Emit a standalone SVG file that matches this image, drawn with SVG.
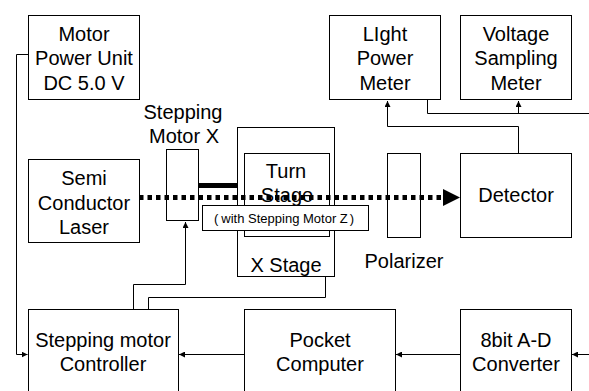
<svg xmlns="http://www.w3.org/2000/svg" width="589" height="391" viewBox="0 0 589 391">
<defs>
<style>
.box{fill:#fff;stroke:#000;stroke-width:1}
.t{font-family:"Liberation Sans",Arial,sans-serif;font-size:20px;fill:#000;text-anchor:middle}
.s{font-family:"Liberation Sans",Arial,sans-serif;font-size:13px;fill:#000}
.ln{fill:none;stroke:#000;stroke-width:1}
</style>
<marker id="ah" markerWidth="6" markerHeight="6" refX="6" refY="3" orient="auto" markerUnits="userSpaceOnUse">
<path d="M0,0 L6,3 L0,6 Z" fill="#000"/>
</marker>
</defs>
<rect width="589" height="391" fill="#fff"/>

<g id="connectors">
<path class="ln" d="M28.5,54.5 H16.5 V354.5 H27.5" marker-end="url(#ah)"/>
<path class="ln" d="M133.5,309 V284.5 H185.5 V222" marker-end="url(#ah)"/>
<path class="ln" d="M148.5,309 V297.5 H325.5 V238" marker-end="url(#ah)"/>
<path class="ln" d="M518.5,153 V126.5 H387.5 V101" marker-end="url(#ah)"/>
<path class="ln" d="M427.5,100 V113.5 H589"/>
<path class="ln" d="M518.5,113.5 V101" marker-end="url(#ah)"/>
<path class="ln" d="M244,354.5 H179" marker-end="url(#ah)"/>
<path class="ln" d="M460,354.5 H396" marker-end="url(#ah)"/>
<path class="ln" d="M589,354.5 H572" marker-end="url(#ah)"/>
</g>

<g id="motor-power">
<rect class="box" x="28.5" y="15.5" width="111" height="84"/>
<text class="t" x="84" y="41">Motor</text>
<text class="t" x="84" y="65">Power Unit</text>
<text class="t" x="84" y="90">DC 5.0 V</text>
</g>

<g id="light-power-meter">
<rect class="box" x="329.5" y="15.5" width="111" height="84"/>
<text class="t" x="385" y="41">LIght</text>
<text class="t" x="385" y="65">Power</text>
<text class="t" x="385" y="90">Meter</text>
</g>

<g id="voltage-meter">
<rect class="box" x="460.5" y="15.5" width="111" height="84"/>
<text class="t" x="516" y="41">Voltage</text>
<text class="t" x="516" y="65">Sampling</text>
<text class="t" x="516" y="90">Meter</text>
</g>

<g id="laser">
<rect class="box" x="28.5" y="159.5" width="111" height="83"/>
<text class="t" x="84" y="185">Semi</text>
<text class="t" x="84" y="210">Conductor</text>
<text class="t" x="84" y="234">Laser</text>
</g>

<g id="stepping-motor-x">
<text class="t" x="183" y="119">Stepping</text>
<text class="t" x="184" y="143">Motor X</text>
<rect class="box" x="166.5" y="149.5" width="32" height="71"/>
<rect x="198" y="183" width="39" height="5" fill="#000"/>
</g>

<g id="x-stage">
<rect class="box" x="237.5" y="127.5" width="97" height="149"/>
<text class="t" x="286" y="272">X Stage</text>
</g>

<g id="turn-stage">
<rect class="box" x="244.5" y="153.5" width="85" height="83"/>
<text class="t" x="286" y="178">Turn</text>
<text class="t" x="287" y="202">Stage</text>
</g>

<g id="polarizer">
<rect class="box" x="387.5" y="153.5" width="33" height="84"/>
<text class="t" x="404" y="268">Polarizer</text>
</g>

<g id="beam">
<line x1="139" y1="197.5" x2="443" y2="197.5" stroke="#000" stroke-width="5" stroke-dasharray="4.5 4"/>
<path d="M443,189 L460,197.5 L443,206 Z" fill="#000"/>
</g>

<g id="motor-z-label">
<rect class="box" x="202.5" y="205.5" width="166" height="25"/>
<text class="s" x="214" y="223">(<tspan dx="3">with Stepping Motor Z</tspan><tspan dx="2">)</tspan></text>
</g>

<g id="detector">
<rect class="box" x="460.5" y="153.5" width="111" height="84"/>
<text class="t" x="516" y="202">Detector</text>
</g>

<g id="stepping-controller">
<rect class="box" x="28.5" y="309.5" width="150" height="95"/>
<text class="t" x="103" y="347">Stepping motor</text>
<text class="t" x="103" y="371">Controller</text>
</g>

<g id="pocket-computer">
<rect class="box" x="244.5" y="309.5" width="151" height="95"/>
<text class="t" x="320" y="347">Pocket</text>
<text class="t" x="320" y="371">Computer</text>
</g>

<g id="ad-converter">
<rect class="box" x="460.5" y="309.5" width="111" height="95"/>
<text class="t" x="516" y="347">8bit A-D</text>
<text class="t" x="516" y="371">Converter</text>
</g>
</svg>
